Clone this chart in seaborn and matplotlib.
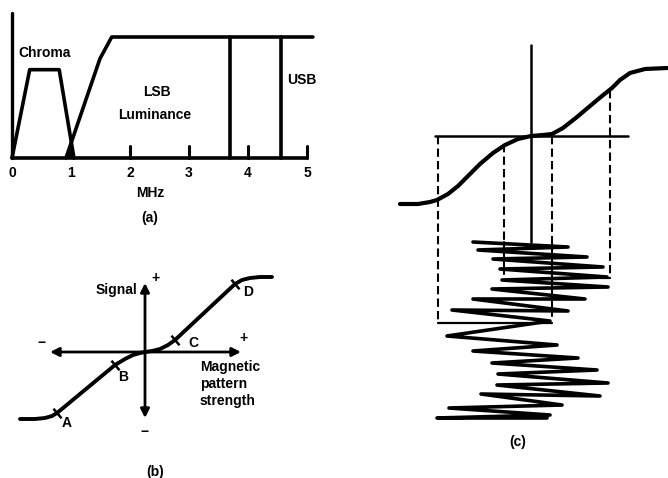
import numpy as np
import pandas as pd
import seaborn as sns
import matplotlib.pyplot as plt

# ---------------- data ----------------
# (a) spectrum of recorded signal, frequency in MHz, relative level
chroma_f = [0.0, 0.3, 0.8, 1.05]
chroma_lvl = [0.0, 0.73, 0.73, 0.0]
luma_f = [0.915, 1.49, 1.69, 5.1]
luma_lvl = [0.0, 0.82, 1.0, 1.0]
sideband_f = [3.69, 4.56]          # LSB / USB edges
mhz_ticks = [0, 1, 2, 3, 4, 5]

# (b) transfer curve: magnetic pattern strength -> signal
field_b = [-12.5, -11.0, -10.0, -9.3, -8.8, -3.0, -2.0, -1.2, -0.5, 0.0,
           0.7, 1.5, 2.3, 3.0, 9.0, 9.7, 10.5, 11.5, 12.7]
signal_b = [-6.7, -6.7, -6.6, -6.4, -6.1, -1.3, -0.7, -0.3, -0.1, 0.0,
            0.1, 0.3, 0.7, 1.2, 6.8, 7.2, 7.4, 7.5, 7.5]
marks_b = {"A": (-8.8, -6.1), "B": (-3.0, -1.3), "C": (3.0, 1.2), "D": (9.0, 6.8)}

# (c) transfer curve and bias-driven recording waveform
field_c = [-13.1, -11.3, -10.1, -9.4, -8.3, -7.3, -6.4, -5.1, -3.8, -2.6, -1.3, 0.0,
           1.2, 2.1, 3.2, 4.6, 5.9, 7.1, 8.1, 8.9, 9.9, 11.4, 13.6]
signal_c = [-6.8, -6.8, -6.6, -6.4, -5.8, -5.0, -4.1, -2.8, -1.7, -0.9, -0.3, 0.0,
            0.1, 0.2, 0.8, 1.9, 3.0, 4.0, 4.8, 5.6, 6.3, 6.7, 6.8]
wave_x = [-5.8, 3.7, -5.3, 5.6, -3.8, 7.2, -3.1, 7.6, -2.9, 7.7, -3.9, 5.4, -5.8, 3.7,
          -7.9, 1.9, -8.4, 2.6, -5.8, 4.7, -3.9, 6.6, -3.3, 7.7, -3.4, 6.9, -5.0, 3.1,
          -8.2, 1.9, -9.4, 1.6]
wave_t = [-10.6, -11.1, -11.4, -12.1, -12.3, -13.1, -13.3, -14.1, -14.4, -15.1, -15.3,
          -16.3, -16.3, -17.5, -17.4, -18.5, -20.0, -20.9, -21.5, -22.2, -22.7, -23.4,
          -23.8, -24.7, -24.9, -26.0, -25.8, -26.9, -27.2, -27.9, -28.2, -28.2]
proj_x = [-9.3, -2.7, 2.1, 7.9]          # projection lines
proj_top = [0.0, -0.8, 0.0, 4.6]
proj_bottom = [-18.7, -13.8, -18.0, -14.2]

# ---------------- style ----------------
sns.set_theme(style="white")
plt.rcParams['font.family'] = ['Liberation Sans', 'DejaVu Sans']
W, H = 668, 478
fig = plt.figure(figsize=(W / 100, H / 100), dpi=100)
fig.patch.set_facecolor("white")
txt = dict(color="black", fontsize=10, fontweight="bold", ha="center", va="center")


def overlay(ox, oy, sx, sy):
    # full-figure transparent axes; (ox, oy) pixel origin, sx/sy pixels per unit
    ax = fig.add_axes([0, 0, 1, 1])
    ax.set_xlim(-ox / sx, (W - ox) / sx)
    ax.set_ylim(-(H - oy) / sy, oy / sy)
    ax.axis("off")
    ax.patch.set_alpha(0)
    return ax


def line(ax, x, y, lw=2.2, **kw):
    sns.lineplot(x=x, y=y, sort=False, estimator=None, color="black", lw=lw, ax=ax,
                 legend=False, **kw)


# ---------------- (a) ----------------
ax = overlay(12, 158, 59, 121)
line(ax, [0, 0], [0, 1.2], lw=2.4)
line(ax, [0, 5], [0, 0], lw=2.6)
line(ax, chroma_f, chroma_lvl, lw=2.6)
line(ax, luma_f, luma_lvl, lw=2.6)
for f in sideband_f:
    line(ax, [f, f], [0, 1.0], lw=2.6)
for t in mhz_ticks[2:]:
    line(ax, [t, t], [0, 0.1], lw=2.2)
# overlap of chroma and luminance skirts
k1 = (chroma_lvl[2] - chroma_lvl[3]) / (chroma_f[3] - chroma_f[2])
k2 = (luma_lvl[1] - luma_lvl[0]) / (luma_f[1] - luma_f[0])
xi = (k1 * chroma_f[3] + k2 * luma_f[0]) / (k1 + k2)
ax.fill([luma_f[0], xi, chroma_f[3]], [0, k2 * (xi - luma_f[0]), 0], color="black")
for t in mhz_ticks:
    ax.text(t, -0.124, str(t), **txt)
ax.text(2.34, -0.289, "MHz", **txt)
ax.text(2.34, -0.496, "(a)", **txt)
ax.text(0.56, 0.868, "Chroma", **txt)
ax.text(2.46, 0.545, "LSB", **txt)
ax.text(2.42, 0.355, "Luminance", **txt)
ax.text(4.92, 0.645, "USB", **txt)

# ---------------- (b) ----------------
ax = overlay(145, 352, 10, 10)
arrow = dict(arrowstyle="<|-|>", lw=2.0, color="black", mutation_scale=13,
             shrinkA=0, shrinkB=0)
ax.annotate("", xy=(9.6, 0), xytext=(-9.5, 0), arrowprops=arrow)
ax.annotate("", xy=(0, 6.9), xytext=(0, -6.6), arrowprops=arrow)
line(ax, field_b, signal_b, lw=2.8)
for name, (mx, my) in marks_b.items():
    ax.plot(mx, my, marker=(2, 0, 40), ms=9, mew=1.8, color="black")
ax.text(-0.8, 6.2, "Signal", **{**txt, "ha": "right"})
ax.text(1.0, 7.4, "+", **txt)
ax.text(-10.3, 0.9, "\u2212", **txt)
ax.text(9.8, 1.4, "+", **txt)
ax.text(0.0, -8.0, "\u2212", **txt)
ax.text(4.8, 0.9, "C", **txt)
ax.text(-2.2, -2.5, "B", **txt)
ax.text(-7.8, -7.1, "A", **txt)
ax.text(10.3, 6.0, "D", **txt)
ax.text(5.5, -3.2, "Magnetic\npattern\nstrength", linespacing=1.25,
        **{**txt, "ha": "left"})
ax.text(1.0, -12.0, "(b)", **txt)

# ---------------- (c) ----------------
ax = overlay(531, 136, 10, 10)
line(ax, [-9.6, 9.7], [0, 0], lw=1.8)
line(ax, [0, 0], [9.1, -10.6], lw=1.8)
line(ax, field_c, signal_c, lw=3.0)
dash = (0, (4, 2))
for px_, top, bot in zip(proj_x, proj_top, proj_bottom):
    if abs(px_) < 5:
        line(ax, [px_, px_], [top, -10.6], lw=1.5, linestyle=dash)
        line(ax, [px_, px_], [-10.6, bot], lw=1.5)
    else:
        line(ax, [px_, px_], [top, bot], lw=1.5, linestyle=dash)
line(ax, [proj_x[0], proj_x[2]], [proj_bottom[0], proj_bottom[0]], lw=1.6)
line(ax, [proj_x[3], proj_x[3] - 1.0], [proj_bottom[3], proj_bottom[3]], lw=1.6)
line(ax, wave_x, wave_t, lw=2.6)
ax.text(-1.3, -30.6, "(c)", **txt)

fig.savefig("out.png", dpi=100, facecolor="white")
